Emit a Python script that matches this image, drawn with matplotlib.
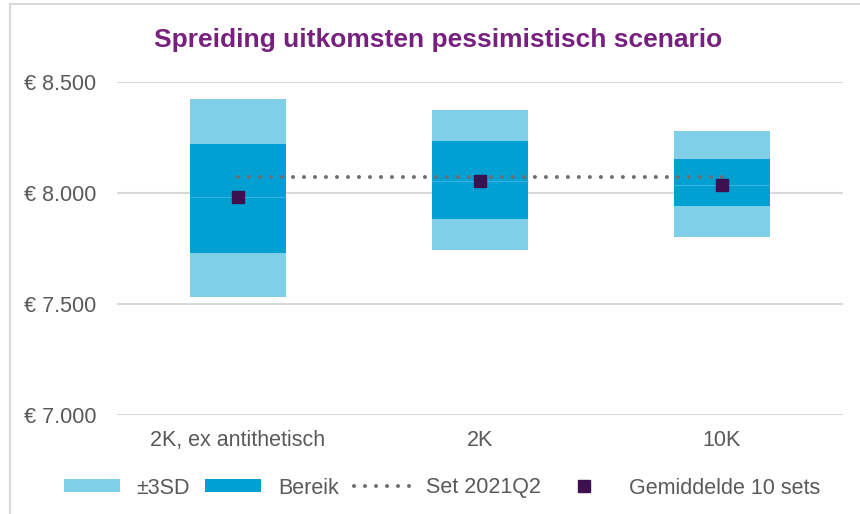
import matplotlib
matplotlib.use("Agg")
import matplotlib.pyplot as plt
from matplotlib.ticker import FuncFormatter
from matplotlib.patches import Patch
from matplotlib.lines import Line2D
import numpy as np

categories = ["2K, ex antithetisch", "2K", "10K"]
sd_low = [7533, 7744, 7801]
sd_high = [8425, 8375, 8279]
range_low = [7729, 7884, 7940]
range_high = [8221, 8236, 8155]
mean_10_sets = [7981, 8054, 8038]
set_2021q2 = [8072, 8072, 8072]

title = "Spreiding uitkomsten pessimistisch scenario"
legend_labels = ["±3SD", "Bereik", "Set 2021Q2", "Gemiddelde 10 sets"]

light = "#80CFE8"
dark = "#00A0D2"
edge = "#3DB6E0"
purple_dark = "#3D1150"
dot_gray = "#6E6E70"
text_gray = "#595959"
grid_gray = "#D9D9D9"
title_col = "#77207F"

plt.rcParams["font.family"] = ["Liberation Sans", "DejaVu Sans"]
FS = 15.5
DOTS = (0, (0.01, 2.72))

fig = plt.figure(figsize=(8.6, 5.14), dpi=100)
ax = fig.add_axes([117/860, 1-415/514, (843-117)/860, (415-82)/514])

x = np.arange(len(categories))
w = 0.40
sd_low_a = np.array(sd_low); sd_high_a = np.array(sd_high)
r_low = np.array(range_low); r_high = np.array(range_high)
mean_a = np.array(mean_10_sets)

kw = dict(width=w, linewidth=0, zorder=2)
ax.bar(x, r_low - sd_low_a, bottom=sd_low_a, color=light, **kw)
ax.bar(x, mean_a - r_low, bottom=r_low, color=dark, **kw)
ax.bar(x, r_high - mean_a, bottom=mean_a, color=dark, **kw)
ax.bar(x, sd_high_a - r_high, bottom=r_high, color=light, **kw)
ax.hlines(mean_a, x - w/2, x + w/2, color=edge, linewidth=0.7, zorder=2.5)

ax.plot(x, set_2021q2, color=dot_gray, linewidth=2.9,
        linestyle=DOTS, dash_capstyle="round", zorder=3)
ax.plot(x, mean_10_sets, linestyle="none", marker="s", markersize=9,
        color=purple_dark, zorder=4)

ax.set_xlim(-0.5, 2.5)
ax.set_ylim(7000, 8500)
ax.set_yticks([7000, 7500, 8000, 8500])
ax.yaxis.set_major_formatter(FuncFormatter(
    lambda v, p: "€ " + f"{int(round(v)):,}".replace(",", ".")))
ax.set_xticks(x)
ax.set_xticklabels(categories)
ax.tick_params(axis="both", length=0, labelsize=FS, colors=text_gray)
ax.tick_params(axis="y", pad=15)
ax.tick_params(axis="x", pad=11)
ax.grid(axis="y", color=grid_gray, linewidth=1.5, zorder=0)
ax.set_axisbelow(True)
for s in ax.spines.values():
    s.set_visible(False)

fig.text(438/860, 1-40/514, title, ha="center", va="center", fontsize=19,
         fontweight="bold", color=title_col)

handles = [
    Patch(facecolor=light, edgecolor="none"),
    Patch(facecolor=dark, edgecolor="none"),
    Line2D([0], [0], color=dot_gray, linewidth=2.9,
           linestyle=DOTS, dash_capstyle="round"),
    Line2D([0], [0], linestyle="none", marker="s", markersize=9,
           color=purple_dark),
]
leg = fig.legend(handles, legend_labels, loc="center", ncol=4,
                 bbox_to_anchor=(442/860, 1-488/514), frameon=False,
                 fontsize=FS, handlelength=2.6, handletextpad=0.78,
                 columnspacing=0.7, handleheight=0.55)
for t in leg.get_texts():
    t.set_color(text_gray)

# chart border (top and left visible)
fig.add_artist(Line2D([10/860, 10/860], [0, 1-4/514], color=grid_gray,
                      linewidth=1.5, transform=fig.transFigure))
fig.add_artist(Line2D([10/860, 1], [1-4/514, 1-4/514], color=grid_gray,
                      linewidth=1.5, transform=fig.transFigure))

fig.savefig("out.png", dpi=100)
